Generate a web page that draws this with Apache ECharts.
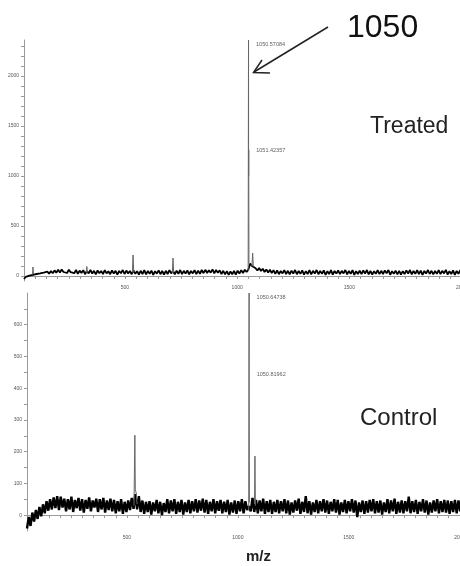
<!DOCTYPE html>
<html>
<head>
<meta charset="utf-8">
<script src="https://cdn.jsdelivr.net/npm/echarts@6/dist/echarts.min.js"></script>
<style>
html,body{margin:0;padding:0;background:#fff;}
#chart{width:460px;height:566px;}
</style>
</head>
<body>
<div id="chart"></div>
<script>
// ---- data ----
const mzStart = 50;      // first sample of the baseline traces (m/z)
const mzStep = 8;        // sampling interval of the baseline traces (m/z)

const treatedBaseline = [
 -30,-8,-24,4,-14,12,-4,20,2,26,
 8,34,16,44,22,50,28,56,32,62,
 36,64,40,58,30,62,38,56,28,60,
 22,54,30,58,18,50,26,60,24,52,
 16,55,28,50,20,58,26,48,18,56,
 24,52,14,50,28,60,20,54,26,50,
 18,56,22,48,14,52,20,58,16,50,
 22,54,12,48,24,56,18,50,14,52,
 20,58,26,50,16,54,22,60,18,52,
 24,56,16,50,26,58,20,54,22,60,
 28,62,30,58,34,66,26,60,32,56,
 20,52,16,48,12,46,18,50,14,54,
 24,58,30,62,40,64,125,100,90,78,
 55,80,50,72,40,66,34,62,30,58,
 22,56,18,50,26,58,20,52,16,54,
 24,60,18,50,22,56,14,48,20,58,
 16,52,24,60,18,50,22,56,12,48,
 20,58,14,50,24,56,18,52,26,60,
 16,50,22,58,12,48,20,54,18,56,
 24,60,16,50,14,48,22,58,18,52,
 20,56,26,60,12,48,22,54,16,52,
 14,48,20,56,24,60,16,50,22,58,
 18,54,12,50,24,60,20,52,16,50,
 22,58,18,52,26,62,14,48,20,56,
 12,50,22,58,18,52,24,60,16,50,
 20,56,18,54,22,58,20
];

const controlBaseline = [
 -42,-6,-34,8,-20,16,-12,26,-4,34,
 6,44,14,50,18,56,22,60,16,58,
 24,52,12,50,18,58,10,48,22,54,
 14,50,8,48,20,56,12,46,24,52,
 10,50,18,54,8,46,16,52,12,48,
 6,44,12,50,4,42,10,46,16,54,
 20,66,18,60,10,46,4,42,10,44,
 2,40,12,48,6,42,0,38,10,50,
 6,46,12,50,4,42,10,48,2,40,
 10,48,6,44,12,50,8,46,14,52,
 8,48,4,42,12,50,6,44,14,48,
 6,42,10,48,2,40,8,46,4,44,
 12,50,6,44,16,28,12,54,10,48,
 6,46,12,52,4,44,10,48,4,42,
 10,48,6,44,12,50,6,46,2,40,
 8,46,14,52,4,42,10,60,6,44,
 2,40,10,48,6,44,12,50,8,46,
 4,42,12,50,8,48,2,40,10,48,
 6,44,12,50,8,46,-6,40,10,46,
 4,44,8,48,12,50,6,44,8,46,
 2,40,10,50,6,46,12,52,4,42,
 8,46,6,44,12,58,6,44,10,48,
 4,42,12,50,8,46,2,40,8,46,
 12,50,6,44,10,48,8,46,4,44,
 10,48,6,46,12,52,6,44,8,46,
 4,42,10,48,8,46,6
];

// peaks: [m/z, intensity] outlines
const treatedPeaks = [
 [[88,15],[90,90],[92,20]],
 [[328,35],[330,95],[332,35]],
 [[533,35],[536,210],[539,40]],
 [[711,30],[714,180],[717,35]],
 [[1049,50],[1050.57084,2360],[1051.0,1000],[1051.42357,1260],[1052.5,130],[1055,120]],
 [[1066,100],[1069,230],[1072,95]]
];
const controlPeaks = [
 [[532,30],[536,252],[538,80],[542,70],[546,35]],
 [[1049,15],[1050.64738,700],[1050.81962,442],[1052,40]],
 [[1075,35],[1077,186],[1079,30]]
];
// labelled peak apexes
const treatedLabels = [[1050.57084,2360],[1051.42357,1260]];
const controlLabels = [[1050.64738,700],[1050.81962,442]];

// axis ticks / labels
const xTicks = [50,100,150,200,250,300,350,400,450,500,550,600,650,700,750,800,850,900,950,1000,
 1050,1100,1150,1200,1250,1300,1350,1400,1450,1500,1550,1600,1650,1700,1750,1800,1850,1900,1950,2000,2050,2100];
const xLabels = [500,1000,1500,2000];
const yTicksTreated = [0,100,200,300,400,500,600,700,800,900,1000,1100,1200,1300,1400,1500,1600,1700,1800,1900,2000,2100,2200,2300];
const yLabelsTreated = [0,500,1000,1500,2000];
const yTicksControl = [0,50,100,150,200,250,300,350,400,450,500,550,600,650];
const yLabelsControl = [0,100,200,300,400,500,600];

const panelNames = ['Treated','Control'];
const xName = 'm/z';
const calloutText = '1050';

// ---- build ----
function toPairs(arr){ return arr.map((v,i)=>[mzStart + i*mzStep, v]); }

function xAx(grid){
  return {
    type:'value', gridIndex:grid, min:50, max:2100,
    axisLine:{show:true, lineStyle:{color:'#999', width:1}},
    splitLine:{show:false},
    axisTick:{show:true, length:3, lineStyle:{color:'#999'}, customValues:xTicks},
    axisLabel:{customValues:xLabels, fontSize:5, color:'#555', margin:4, fontFamily:'Liberation Sans',
      formatter:v=>String(v)}
  };
}
function yAx(grid, min, max, ticks, labels){
  return {
    type:'value', gridIndex:grid, min:min, max:max,
    axisLine:{show:true, lineStyle:{color:'#999', width:1}},
    splitLine:{show:false},
    axisTick:{show:true, length:3, lineStyle:{color:'#999'}, customValues:ticks},
    axisLabel:{customValues:labels, fontSize:5, color:'#555', margin:5, fontFamily:'Liberation Sans',
      formatter:v=>String(v)}
  };
}

const series = [];
series.push({type:'line', xAxisIndex:0, yAxisIndex:0, data:toPairs(treatedBaseline), showSymbol:false,
  lineStyle:{color:'#000', width:1.8}, silent:true, z:2});
series.push({type:'line', xAxisIndex:1, yAxisIndex:1, data:toPairs(controlBaseline), showSymbol:false,
  lineStyle:{color:'#000', width:2.4}, silent:true, z:2});
treatedPeaks.forEach(p=>series.push({type:'line', xAxisIndex:0, yAxisIndex:0, data:p, showSymbol:false,
  lineStyle:{color:'#666', width:1}, silent:true, z:3}));
controlPeaks.forEach(p=>series.push({type:'line', xAxisIndex:1, yAxisIndex:1, data:p, showSymbol:false,
  lineStyle:{color:'#666', width:1}, silent:true, z:3}));
function labelSeries(pts, xi, firstOffset){
  return {type:'scatter', xAxisIndex:xi, yAxisIndex:xi, clip:false, symbolSize:1,
    itemStyle:{color:'rgba(0,0,0,0)'}, silent:true, z:4,
    data: pts.map((p,i)=>({value:p, label:{show:true, position:'right', distance:7,
      offset:[0, i===0?firstOffset:0], formatter:p[0].toFixed(5), fontSize:5.5, color:'#333',
      fontFamily:'Liberation Sans'}}))};
}
series.push(labelSeries(treatedLabels,0,4));
series.push(labelSeries(controlLabels,1,4));

const option = {
  backgroundColor:'#fff',
  animation:false,
  grid:[
    {left:24, top:40, height:241, width:460, outerBoundsMode:'none', containLabel:false},
    {left:27, top:293, height:238, width:455, outerBoundsMode:'none', containLabel:false}
  ],
  xAxis:[xAx(0), xAx(1)],
  yAxis:[yAx(0,-50,2360,yTicksTreated,yLabelsTreated), yAx(1,-50,700,yTicksControl,yLabelsControl)],
  series: series,
  graphic:[
    {type:'text', left:347, top:12, style:{text:calloutText, font:'32px "Liberation Sans"', fill:'#111'}},
    {type:'line', shape:{x1:328, y1:27, x2:254, y2:72}, style:{stroke:'#222', lineWidth:1.5}},
    {type:'polyline', shape:{points:[[262,60],[253.5,72.5],[270,73]]}, style:{stroke:'#222', lineWidth:1.5, fill:null}},
    {type:'text', left:370, top:115, style:{text:panelNames[0], font:'23px "Liberation Sans"', fill:'#222'}},
    {type:'text', left:360, top:406, style:{text:panelNames[1], font:'24px "Liberation Sans"', fill:'#222'}},
    {type:'text', left:246, top:549, style:{text:xName, font:'bold 15px "Liberation Sans"', fill:'#222'}}
  ]
};
const chart = echarts.init(document.getElementById('chart'), null, {renderer:'canvas'});
chart.setOption(option);
</script>
</body>
</html>
